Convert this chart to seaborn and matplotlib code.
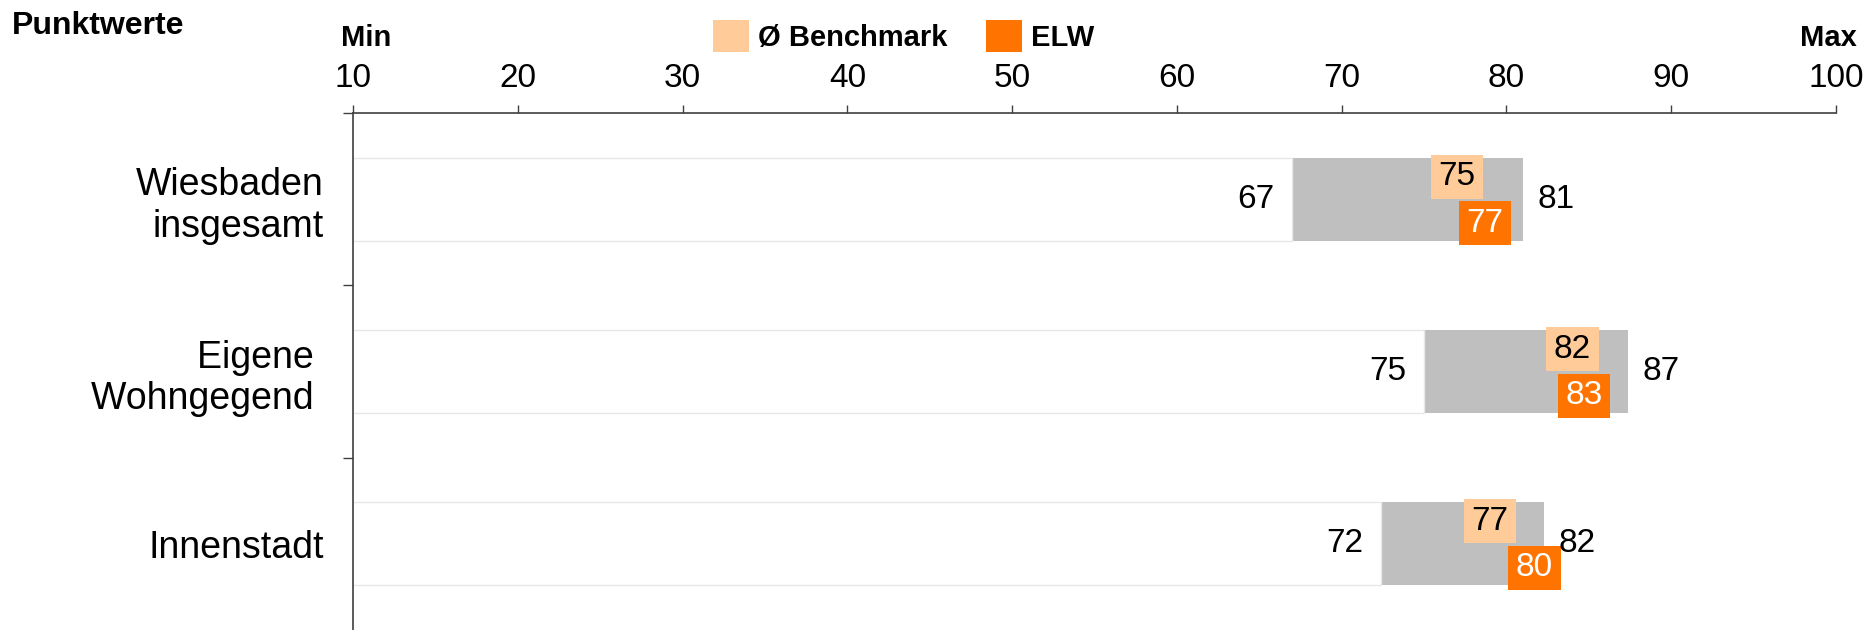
import matplotlib
matplotlib.use("Agg")
import matplotlib.pyplot as plt
from matplotlib.patches import Patch
import pandas as pd
import seaborn as sns

# data (bar ends, labels rounded)
categories = ["Wiesbaden\ninsgesamt", "Eigene \nWohngegend ", "Innenstadt"]
min_vals = [67, 75, 72.4]
max_vals = [81, 87.4, 82.3]
benchmark = [75, 82, 77]
elw = [77, 83, 80]
ticks = list(range(10, 101, 10))

sns.set_theme(style="white")
plt.rcParams["font.family"] = ["Liberation Sans", "DejaVu Sans"]
plt.rcParams["text.color"] = "black"
plt.rcParams["xtick.labelcolor"] = "black"
plt.rcParams["ytick.labelcolor"] = "black"

W, H = 1863, 630
fig = plt.figure(figsize=(W / 100, H / 100), dpi=100)
ax = fig.add_axes([353 / W, 0, (1836 - 353) / W, 1 - 113 / H])

df = pd.DataFrame({"Kategorie": categories, "Min": min_vals, "Max": max_vals})

# gray range bar (10..max), white bar on top covers 10..min
sns.barplot(data=df, x="Max", y="Kategorie", color="#bfbfbf", width=0.48,
            saturation=1, linewidth=0, ax=ax)
sns.barplot(data=df, x="Min", y="Kategorie", color="white", edgecolor="#e8e8e8",
            linewidth=1, width=0.48, saturation=1, ax=ax)

box_w, box_h = 3.2, 0.255
for i in range(len(categories)):
    # min / max labels
    ax.annotate(f"{min_vals[i]:.0f}", (min_vals[i], i), xytext=(-13, 0),
                textcoords="offset points", ha="right", va="center",
                fontsize=24, color="black", zorder=5)
    ax.annotate(f"{max_vals[i]:.0f}", (max_vals[i], i), xytext=(10.5, 0),
                textcoords="offset points", ha="left", va="center",
                fontsize=24, color="black", zorder=5)
    # benchmark box
    yb = i - 0.13
    xb = benchmark[i] + 0.4
    ax.barh(yb, box_w, left=xb, height=box_h, color="#ffcc99", linewidth=0, zorder=3)
    ax.text(xb + box_w / 2, yb, str(benchmark[i]), ha="center",
            va="center", fontsize=24, color="black", zorder=4)
    # ELW box
    ye = i + 0.14
    xe = elw[i] + 0.1
    ax.barh(ye, box_w, left=xe, height=box_h, color="#ff7300", linewidth=0, zorder=3)
    ax.text(xe + box_w / 2, ye, str(elw[i]), ha="center",
            va="center", fontsize=24, color="white", zorder=4)

ax.set_xlim(10, 100)
ax.set_ylim(2.5, -0.5)
ax.set_xlabel("")
ax.set_ylabel("")
ax.xaxis.tick_top()
ax.set_xticks(ticks)
ax.set_xticklabels([str(t) for t in ticks])
ax.tick_params(axis="x", which="both", direction="out", length=6, width=1,
               color="#404040", labelsize=24, pad=8, top=True, bottom=False)
ax.set_yticks([-0.5, 0.5, 1.5], minor=True)
ax.tick_params(axis="y", which="major", length=0, labelsize=27, pad=21)
ax.tick_params(axis="y", which="minor", direction="out", length=7, width=1,
               color="#404040", left=True)
for s in ["bottom", "right"]:
    ax.spines[s].set_visible(False)
for s in ["top", "left"]:
    ax.spines[s].set_color("#404040")
    ax.spines[s].set_linewidth(1.2)
ax.grid(False)

fig.text(12 / W, 1 - 26 / H, "Punktwerte", fontsize=23, fontweight="bold",
         ha="left", va="center")
fig.text(341 / W, 1 - 38 / H, "Min", fontsize=21, fontweight="bold",
         ha="left", va="center")
fig.text(1857 / W, 1 - 38 / H, "Max", fontsize=21, fontweight="bold",
         ha="right", va="center")

handles = [Patch(facecolor="#ffcc99", linewidth=0), Patch(facecolor="#ff7300", linewidth=0)]
fig.legend(handles, ["Ø Benchmark", "ELW"], loc="center left",
           bbox_to_anchor=(713 / W, 1 - 36 / H), ncol=2, frameon=False,
           prop={"size": 21, "weight": "bold"}, handlelength=1.25,
           handleheight=1.35, handletextpad=0.3, columnspacing=1.3,
           borderpad=0, borderaxespad=0)

fig.savefig("out.png", dpi=100)
